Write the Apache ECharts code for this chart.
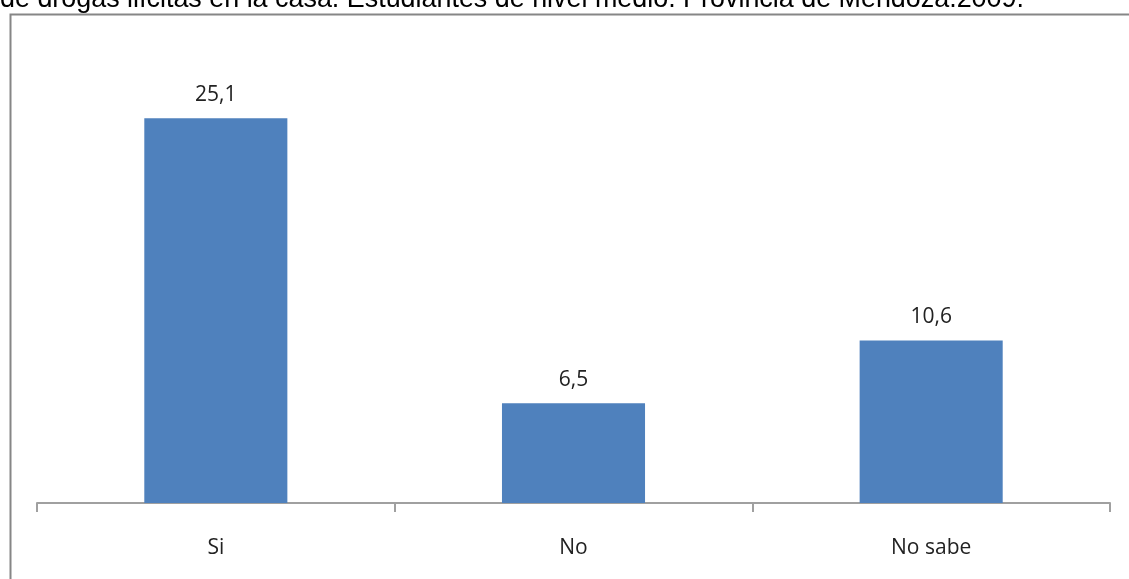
<!DOCTYPE html>
<html>
<head>
<meta charset="utf-8">
<script src="https://cdn.jsdelivr.net/npm/echarts@6/dist/echarts.min.js"></script>
<style>
html,body{margin:0;padding:0;background:#fff;}
#c{width:1129px;height:579px;}
</style>
</head>
<body>
<div id="c"></div>
<script>
const titleText = 'de drogas ilícitas en la casa. Estudiantes de nivel medio. Provincia de Mendoza.2009.';
const categories = ['Si', 'No', 'No sabe'];
const values = [25.1, 6.5, 10.6];
const labels = ['25,1', '6,5', '10,6'];

const chart = echarts.init(document.getElementById('c'), null, {renderer: 'canvas'});
chart.setOption({
  animation: false,
  backgroundColor: '#ffffff',
  graphic: [
    {type: 'rect', left: 8, top: 12, shape: {width: 1200, height: 700},
     style: {fill: 'none', stroke: '#868686', lineWidth: 2}, z: 0},
    {type: 'text', left: 0, top: -14,
     style: {text: titleText, fontSize: 26.9, fontFamily: '"Liberation Sans", Arial, sans-serif', fill: '#000'}, z: 10}
  ],
  grid: {left: 37, right: 19, top: 43, bottom: 76, containLabel: false},
  xAxis: {
    type: 'category',
    data: categories,
    axisLine: {lineStyle: {color: '#a0a0a0', width: 2}},
    axisTick: {show: true, length: 9, alignWithLabel: false, lineStyle: {color: '#a0a0a0', width: 2}},
    axisLabel: {color: '#222', fontSize: 21, fontFamily: '"Open Sans", "Noto Sans", sans-serif', margin: 35}
  },
  yAxis: {
    type: 'value', min: 0, max: 30, show: false,
    splitLine: {show: false}
  },
  series: [{
    type: 'bar',
    data: values,
    barWidth: '40%',
    itemStyle: {color: '#4F81BD'},
    label: {
      show: true, position: 'top', distance: 13,
      formatter: p => labels[p.dataIndex],
      color: '#222', fontSize: 21, fontFamily: '"Open Sans", "Noto Sans", sans-serif'
    }
  }]
});
</script>
</body>
</html>
